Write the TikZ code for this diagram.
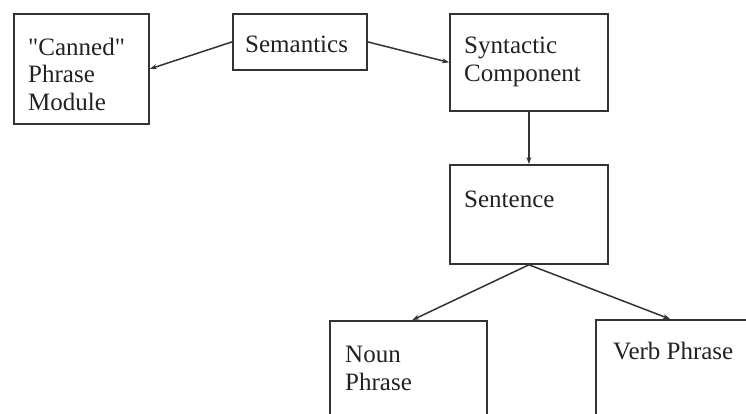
\documentclass[tikz,border=0pt]{standalone}
\usepackage{fontspec}
\setmainfont{Liberation Serif}
\newfontfamily\txtfont{Liberation Serif}
\usetikzlibrary{arrows.meta}
\definecolor{ln}{HTML}{333333}
\definecolor{tx}{HTML}{222222}
\begin{document}
\begin{tikzpicture}[x=1pt,y=-1pt,
  box/.style={draw=ln,line width=1.8pt,rectangle,anchor=north west,inner sep=0pt},
  lbl/.style={anchor=base west,align=left,inner sep=0pt,text=tx,font=\txtfont\fontsize{25}{27.5}\selectfont},
  arr/.style={draw=ln,line width=1.5pt,-{Stealth[length=7pt,width=5pt]}}]
\useasboundingbox (0,0) rectangle (746,413);
\clip (0,0) rectangle (746,413);
\node[box,minimum width=135pt,minimum height=110pt] (canned) at (13,13) {};
\node[box,minimum width=134pt,minimum height=56pt] (sem) at (232,13) {};
\node[box,minimum width=158pt,minimum height=97pt] (syn) at (449,13) {};
\node[box,minimum width=158pt,minimum height=99pt] (sent) at (449,164) {};
\node[box,minimum width=157pt,minimum height=120pt] (noun) at (329,320) {};
\node[box,minimum width=180pt,minimum height=120pt] (verb) at (595,319) {};
\node[lbl] (tcanned) at (28,110) {"Canned"\\Phrase\\Module};
\node[lbl] (tsem) at (245,52) {Semantics};
\node[lbl] (tsyn) at (464,81) {Syntactic\\Component};
\node[lbl] (tsent) at (464,207) {Sentence};
\node[lbl] (tnoun) at (345,390) {Noun\\Phrase};
\node[lbl] (tverb) at (613,359) {Verb Phrase};
\draw[arr] (sem.west) -- (canned.east);
\draw[arr] (sem.east) -- (syn.west);
\draw[arr] (syn.south) -- (sent.north);
\draw[arr] (sent.south) -- ([xshift=4pt]noun.north);
\draw[arr] (sent.south) -- ([xshift=75pt]verb.north west);
\end{tikzpicture}
\end{document}
